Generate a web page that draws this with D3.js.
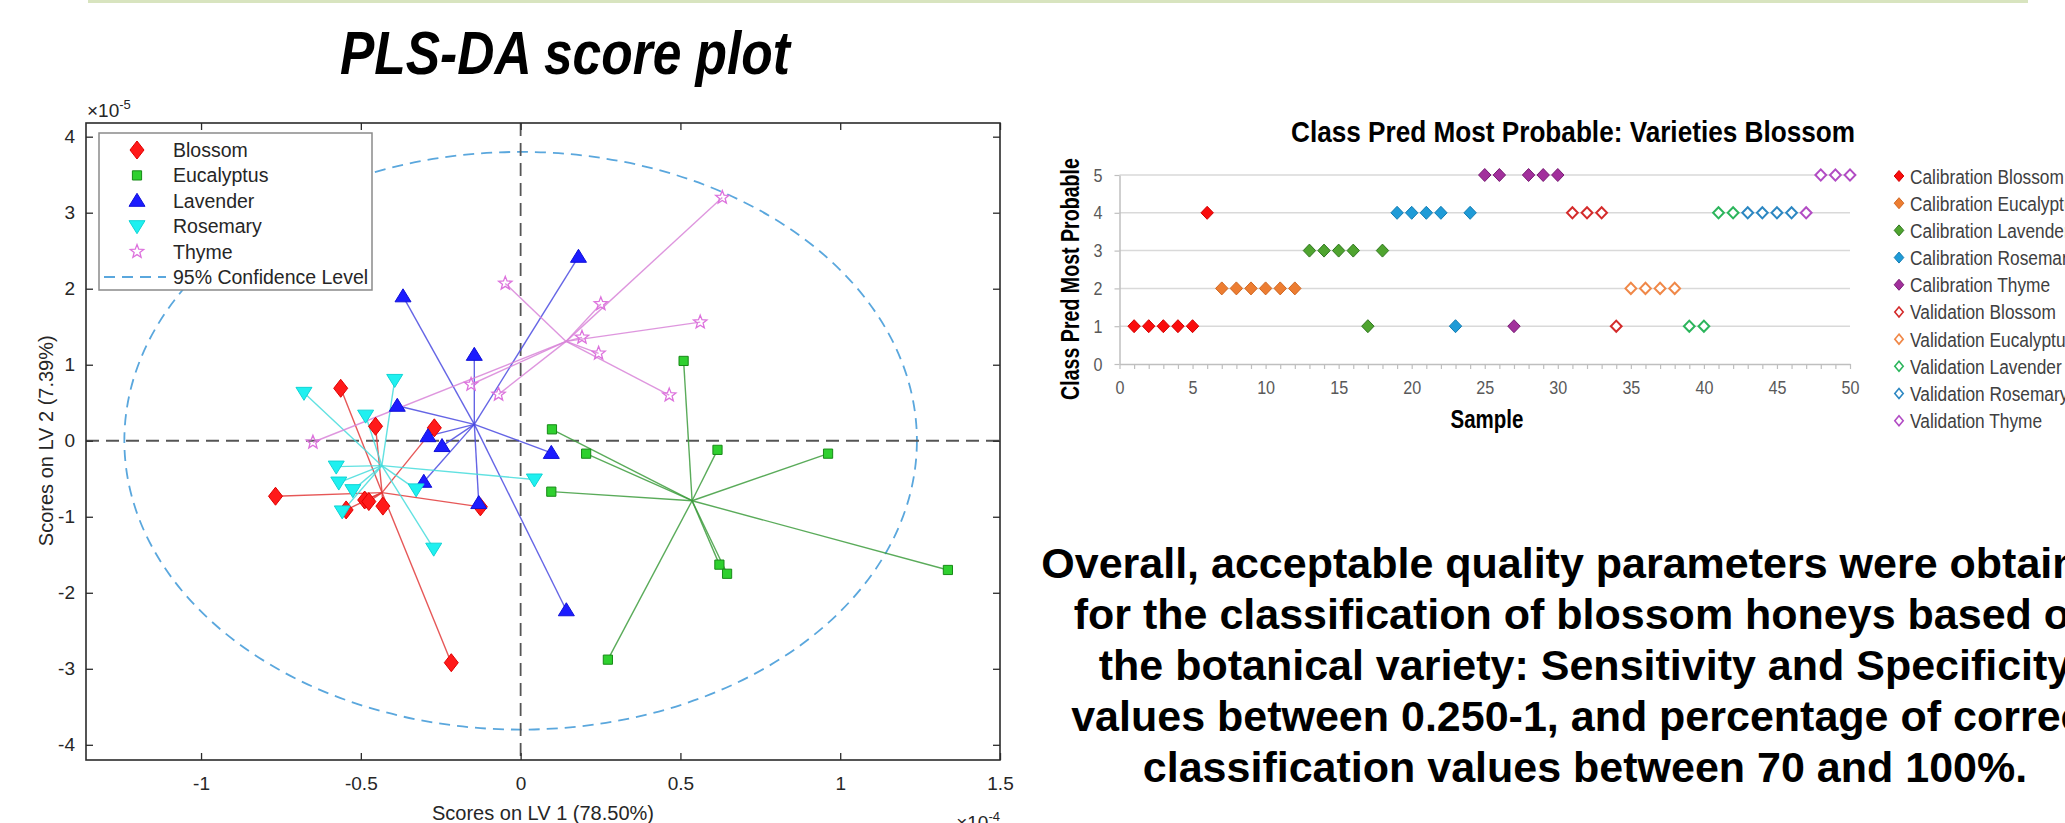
<!DOCTYPE html>
<html>
<head>
<meta charset="utf-8">
<script src="https://cdn.jsdelivr.net/npm/d3@7"></script>
<style>
  body { margin: 0; background: #fff; }
  svg { display: block; font-family: "Liberation Sans", Arial, Helvetica, sans-serif; }
</style>
</head>
<body>
<script>
// ---------------- PLS-DA scores: LV1 in units of 1e-4, LV2 in units of 1e-5 ----------------
const classNames = ["Blossom", "Eucalyptus", "Lavender", "Rosemary", "Thyme"];

const blossomLV1    = [-0.563, -0.454, -0.270, -0.767, -0.546, -0.488, -0.475, -0.431, -0.126, -0.217];
const blossomLV2    = [ 0.69,   0.19,   0.17,  -0.73,  -0.91,  -0.78,  -0.80,  -0.86,  -0.87,  -2.92];
const eucalyptusLV1 = [ 0.098,  0.205,  0.096,  0.616,  0.962,  0.622,  0.646,  1.337,  0.273,  0.510];
const eucalyptusLV2 = [ 0.15,  -0.17,  -0.67,  -0.12,  -0.17,  -1.63,  -1.75,  -1.70,  -2.88,   1.05];
const lavenderLV1   = [-0.368, -0.145, -0.386, -0.290, -0.246,  0.096, -0.303, -0.131,  0.181,  0.143];
const lavenderLV2   = [ 1.90,   1.13,   0.46,   0.06,  -0.07,  -0.16,  -0.54,  -0.82,   2.42,  -2.23];
const rosemaryLV1   = [-0.678, -0.394, -0.485, -0.577, -0.569, -0.525, -0.558, -0.327,  0.043, -0.272];
const rosemaryLV2   = [ 0.63,   0.80,   0.33,  -0.34,  -0.55,  -0.65,  -0.93,  -0.64,  -0.51,  -1.42];
const thymeLV1      = [-0.048, -0.155, -0.069, -0.650,  0.631,  0.251,  0.562,  0.192,  0.244,  0.465];
const thymeLV2      = [ 2.07,   0.74,   0.61,  -0.02,   3.20,   1.80,   1.56,   1.36,   1.15,   0.60];

// 95% confidence ellipse semi-axes (same units as the scores)
const ellipseLV1 = 1.24;
const ellipseLV2 = 3.80;

const lv1Ticks = [-1, -0.5, 0, 0.5, 1, 1.5];
const lv2Ticks = [-4, -3, -2, -1, 0, 1, 2, 3, 4];

// ---------------- Class prediction per sample ----------------
const calBlossomSample    = [1, 2, 3, 4, 5, 6];       const calBlossomPred    = [1, 1, 1, 1, 1, 4];
const calEucalyptusSample = [7, 8, 9, 10, 11, 12];    const calEucalyptusPred = [2, 2, 2, 2, 2, 2];
const calLavenderSample   = [13, 14, 15, 16, 17, 18]; const calLavenderPred   = [3, 3, 3, 3, 1, 3];
const calRosemarySample   = [19, 20, 21, 22, 23, 24]; const calRosemaryPred   = [4, 4, 4, 4, 1, 4];
const calThymeSample      = [25, 26, 27, 28, 29, 30]; const calThymePred      = [5, 5, 1, 5, 5, 5];
const valBlossomSample    = [31, 32, 33, 34];         const valBlossomPred    = [4, 4, 4, 1];
const valEucalyptusSample = [35, 36, 37, 38];         const valEucalyptusPred = [2, 2, 2, 2];
const valLavenderSample   = [39, 40, 41, 42];         const valLavenderPred   = [1, 1, 4, 4];
const valRosemarySample   = [43, 44, 45, 46];         const valRosemaryPred   = [4, 4, 4, 4];
const valThymeSample      = [47, 48, 49, 50];         const valThymePred      = [4, 5, 5, 5];

const seriesNames = ["Calibration Blossom", "Calibration Eucalyptus", "Calibration Lavender",
  "Calibration Rosemary", "Calibration Thyme", "Validation Blossom", "Validation Eucalyptus",
  "Validation Lavender", "Validation Rosemary", "Validation Thyme"];
const sampleTicks = [0, 5, 10, 15, 20, 25, 30, 35, 40, 45, 50];
const predTicks = [0, 1, 2, 3, 4, 5];

const bodyLines = [
  "Overall, acceptable quality parameters were obtained",
  "for the classification of blossom honeys based on",
  "the botanical variety: Sensitivity and Specificity",
  "values between 0.250-1, and percentage of correct",
  "classification values between 70 and 100%."
];

// ---------------- page ----------------
const W = 2065, H = 823;
const svg = d3.select("body").append("svg").attr("width", W).attr("height", H);
svg.append("rect").attr("width", W).attr("height", H).attr("fill", "#fff");
svg.append("rect").attr("x", 88).attr("y", 0).attr("width", 1940).attr("height", 3).attr("fill", "#d8e4bf");

// text drawn horizontally condensed (narrow face look)
function narrowText(parent, x, y, str, o) {
  const g = parent.append("g")
    .attr("transform", `translate(${x},${y})${o.rotate ? ` rotate(${o.rotate})` : ""}`);
  const inner = g.append("g");
  const t = inner.append("text")
    .attr("text-anchor", o.anchor || "start")
    .attr("font-size", o.size)
    .attr("font-weight", o.weight || "normal")
    .attr("font-style", o.style || "normal")
    .attr("fill", o.fill || "#000")
    .text(str);
  let sx = o.sx || 0.82;
  if (o.width) sx = o.width / t.node().getComputedTextLength();
  inner.attr("transform", `scale(${sx},1)`);
  return sx;
}

// ================= PLS-DA score plot =================
narrowText(svg, 340, 74, "PLS-DA score plot", { size: 62, weight: "bold", style: "italic", width: 450 });

const px = d3.scaleLinear().domain([-1.36, 1.5]).range([86, 1000]);
const py = d3.scaleLinear().domain([-4.2, 4.18]).range([760, 123]);
const axisColor = "#2b2b2b";
const plot = svg.append("g");

const classStyle = {
  Blossom:    { fill: "#ff1a1a", stroke: "#e00000", line: "#e23a3a", shape: "diamond" },
  Eucalyptus: { fill: "#2fd02f", stroke: "#178a17", line: "#3d9c3d", shape: "square" },
  Lavender:   { fill: "#1c1cff", stroke: "#1010d8", line: "#4a4ae0", shape: "up" },
  Rosemary:   { fill: "#1ff0f0", stroke: "#10d4d4", line: "#45dcdc", shape: "down" },
  Thyme:      { fill: "none",    stroke: "#dd72dd", line: "#d884d8", shape: "star" }
};

function starPath(R, r) {
  let p = "";
  for (let i = 0; i < 10; i++) {
    const a = -Math.PI / 2 + i * Math.PI / 5, rad = i % 2 ? r : R;
    p += (i ? "L" : "M") + (rad * Math.cos(a)).toFixed(2) + "," + (rad * Math.sin(a)).toFixed(2);
  }
  return p + "Z";
}
const shapes = {
  diamond: "M0,-9L7,0L0,9L-7,0Z",
  square: "M-4.6,-4.6H4.6V4.6H-4.6Z",
  up: "M0,-7.5L8,5.5L-8,5.5Z",
  down: "M0,7.5L8,-5.5L-8,-5.5Z",
  star: starPath(7, 3)
};

const classes = [
  { name: classNames[0], lv1: blossomLV1,    lv2: blossomLV2 },
  { name: classNames[1], lv1: eucalyptusLV1, lv2: eucalyptusLV2 },
  { name: classNames[2], lv1: lavenderLV1,   lv2: lavenderLV2 },
  { name: classNames[3], lv1: rosemaryLV1,   lv2: rosemaryLV2 },
  { name: classNames[4], lv1: thymeLV1,      lv2: thymeLV2 }
];
classes.forEach(c => {
  c.points = c.lv1.map((v, i) => ({ x: v, y: c.lv2[i] }));
  c.cx = d3.mean(c.lv1);
  c.cy = d3.mean(c.lv2);
});

// confidence ellipse
plot.append("ellipse")
  .attr("cx", px(0)).attr("cy", py(0))
  .attr("rx", px(ellipseLV1) - px(0)).attr("ry", py(0) - py(ellipseLV2))
  .attr("fill", "none").attr("stroke", "#5aa7dd").attr("stroke-width", 1.8)
  .attr("stroke-dasharray", "11,7");

// zero lines
plot.append("line").attr("x1", px(0)).attr("x2", px(0)).attr("y1", py(4.18)).attr("y2", py(-4.2))
  .attr("stroke", "#555").attr("stroke-width", 1.8).attr("stroke-dasharray", "13,7");
plot.append("line").attr("x1", px(-1.36)).attr("x2", px(1.5)).attr("y1", py(0)).attr("y2", py(0))
  .attr("stroke", "#555").attr("stroke-width", 1.8).attr("stroke-dasharray", "13,7");

// spokes from each class centre to its samples
classes.forEach(c => {
  const s = classStyle[c.name];
  plot.append("g").selectAll("line").data(c.points).join("line")
    .attr("x1", px(c.cx)).attr("y1", py(c.cy))
    .attr("x2", d => px(d.x)).attr("y2", d => py(d.y))
    .attr("stroke", s.line).attr("stroke-width", 1.4).attr("stroke-opacity", 0.85);
});
// markers
classes.forEach(c => {
  const s = classStyle[c.name];
  plot.append("g").selectAll("path").data(c.points).join("path")
    .attr("transform", d => `translate(${px(d.x)},${py(d.y)})`)
    .attr("d", shapes[s.shape])
    .attr("fill", s.fill).attr("stroke", s.stroke)
    .attr("stroke-width", s.shape === "star" ? 1.3 : 1);
});

// axes (ticks inside on all four sides)
function styleAxis(g) {
  g.select(".domain").remove();
  g.selectAll(".tick line").attr("stroke", axisColor).attr("stroke-width", 1.3);
  g.selectAll(".tick text").attr("fill", "#262626").attr("font-size", 19)
    .attr("font-family", "'Liberation Sans', Arial, sans-serif");
}
const fmt = d => String(d);
svg.append("g").attr("transform", `translate(0,${py(-4.2)})`)
  .call(d3.axisBottom(px).tickValues(lv1Ticks).tickFormat(fmt).tickSizeInner(-7).tickSizeOuter(0).tickPadding(17))
  .call(styleAxis);
svg.append("g").attr("transform", `translate(0,${py(4.18)})`)
  .call(d3.axisTop(px).tickValues(lv1Ticks).tickFormat("").tickSizeInner(-7).tickSizeOuter(0))
  .call(styleAxis);
svg.append("g").attr("transform", `translate(${px(-1.36)},0)`)
  .call(d3.axisLeft(py).tickValues(lv2Ticks).tickFormat(fmt).tickSizeInner(-7).tickSizeOuter(0).tickPadding(11))
  .call(styleAxis);
svg.append("g").attr("transform", `translate(${px(1.5)},0)`)
  .call(d3.axisRight(py).tickValues(lv2Ticks).tickFormat("").tickSizeInner(-7).tickSizeOuter(0))
  .call(styleAxis);
svg.append("rect")
  .attr("x", px(-1.36)).attr("y", py(4.18))
  .attr("width", px(1.5) - px(-1.36)).attr("height", py(-4.2) - py(4.18))
  .attr("fill", "none").attr("stroke", axisColor).attr("stroke-width", 1.6);

// exponent labels
const e5 = svg.append("text").attr("x", 87).attr("y", 117).attr("font-size", 19).attr("fill", "#262626");
e5.append("tspan").text("\u00d710");
e5.append("tspan").attr("dy", -8).attr("font-size", 13).text("-5");
const e4 = svg.append("text").attr("x", 1000).attr("y", 829).attr("text-anchor", "end").attr("font-size", 19).attr("fill", "#262626");
e4.append("tspan").text("\u00d710");
e4.append("tspan").attr("dy", -8).attr("font-size", 13).text("-4");

// axis titles
svg.append("text").attr("x", 543).attr("y", 820).attr("text-anchor", "middle")
  .attr("font-size", 20).attr("fill", "#262626").text("Scores on LV 1 (78.50%)");
svg.append("text").attr("transform", `translate(53,${py(0)}) rotate(-90)`).attr("text-anchor", "middle")
  .attr("font-size", 20).attr("fill", "#262626").text("Scores on LV 2 (7.39%)");

// legend
const lg = svg.append("g");
lg.append("rect").attr("x", 99).attr("y", 133).attr("width", 273).attr("height", 157)
  .attr("fill", "#fff").attr("stroke", "#8a8a8a").attr("stroke-width", 1.5);
const legendRowY = d3.scaleLinear().domain([0, 5]).range([150, 277]);
classes.forEach((c, i) => {
  const s = classStyle[c.name];
  lg.append("path").attr("transform", `translate(137,${legendRowY(i)})`).attr("d", shapes[s.shape])
    .attr("fill", s.fill).attr("stroke", s.stroke).attr("stroke-width", s.shape === "star" ? 1.3 : 1);
  lg.append("text").attr("x", 173).attr("y", legendRowY(i)).attr("dy", "0.36em")
    .attr("font-size", 19.5).attr("fill", "#262626").text(c.name);
});
lg.append("line").attr("x1", 104).attr("x2", 166).attr("y1", legendRowY(5)).attr("y2", legendRowY(5))
  .attr("stroke", "#5aa7dd").attr("stroke-width", 1.8).attr("stroke-dasharray", "11,7");
lg.append("text").attr("x", 173).attr("y", legendRowY(5)).attr("dy", "0.36em")
  .attr("font-size", 19.5).attr("fill", "#262626").text("95% Confidence Level");

// ================= Class prediction chart =================
const qx = d3.scaleLinear().domain([0, 50]).range([1119.5, 1850]);
const qy = d3.scaleLinear().domain([0, 5]).range([364, 175]);
const ch = svg.append("g");

narrowText(ch, 1573, 142, "Class Pred Most Probable: Varieties Blossom", { size: 29, weight: "bold", anchor: "middle", width: 564 });

// gridlines
ch.append("g").selectAll("line").data(predTicks.slice(1)).join("line")
  .attr("x1", qx(0)).attr("x2", qx(50)).attr("y1", d => qy(d)).attr("y2", d => qy(d))
  .attr("stroke", "#d9d9d9").attr("stroke-width", 1.5);

// axes
const minorSamples = d3.range(0, 51);
ch.append("g").attr("transform", `translate(0,${qy(0)})`)
  .call(d3.axisBottom(qx).tickValues(minorSamples).tickFormat("").tickSize(5).tickSizeOuter(0))
  .call(g => { g.select(".domain").attr("stroke", "#bfbfbf").attr("stroke-width", 1.5); g.selectAll(".tick line").attr("stroke", "#bfbfbf").attr("stroke-width", 1.2); });
ch.append("g").attr("transform", `translate(0,${qy(0)})`)
  .call(d3.axisBottom(qx).tickValues(sampleTicks).tickFormat(d3.format("d")).tickSize(0).tickPadding(17))
  .call(g => {
    g.select(".domain").remove();
    g.selectAll(".tick text").attr("font-size", 19).attr("fill", "#595959")
      .attr("font-family", "'Liberation Sans', Arial, sans-serif").attr("transform", "scale(0.85,1)");
  });
ch.append("g").attr("transform", `translate(${qx(0)},0)`)
  .call(d3.axisLeft(qy).tickValues(predTicks).tickFormat(d3.format("d")).tickSize(5).tickSizeOuter(0).tickPadding(15))
  .call(g => {
    g.select(".domain").attr("stroke", "#bfbfbf").attr("stroke-width", 1.5);
    g.selectAll(".tick line").attr("stroke", "#bfbfbf").attr("stroke-width", 1.2);
    g.selectAll(".tick text").attr("font-size", 19).attr("fill", "#595959")
      .attr("font-family", "'Liberation Sans', Arial, sans-serif").attr("transform", "scale(0.85,1)");
  });

narrowText(ch, 1487, 428, "Sample", { size: 25, weight: "bold", anchor: "middle", width: 73 });
narrowText(ch, 1079, 279, "Class Pred Most Probable", { size: 25, weight: "bold", anchor: "middle", width: 242, rotate: -90 });

const seriesStyle = [
  { fill: "#fa0d0d", stroke: "#d10000" },
  { fill: "#ed7d31", stroke: "#cf6722" },
  { fill: "#4fa42f", stroke: "#2f7620" },
  { fill: "#1f9bd7", stroke: "#147db3" },
  { fill: "#a2309c", stroke: "#781c74" },
  { fill: "#fff", stroke: "#d42b2b" },
  { fill: "#fff", stroke: "#f08848" },
  { fill: "#fff", stroke: "#2cb55c" },
  { fill: "#fff", stroke: "#2c87c2" },
  { fill: "#fff", stroke: "#b24cc4" }
];
const series = [
  [calBlossomSample, calBlossomPred], [calEucalyptusSample, calEucalyptusPred],
  [calLavenderSample, calLavenderPred], [calRosemarySample, calRosemaryPred],
  [calThymeSample, calThymePred], [valBlossomSample, valBlossomPred],
  [valEucalyptusSample, valEucalyptusPred], [valLavenderSample, valLavenderPred],
  [valRosemarySample, valRosemaryPred], [valThymeSample, valThymePred]
].map(([s, p], i) => ({ name: seriesNames[i], pts: s.map((v, j) => ({ x: v, y: p[j] })) }));

const diamond = "M0,-6.5L6.2,0L0,6.5L-6.2,0Z";
const diamondHollow = "M0,-5.6L5.4,0L0,5.6L-5.4,0Z";
series.forEach((s, i) => {
  const st = seriesStyle[i], hollow = i >= 5;
  ch.append("g").selectAll("path").data(s.pts).join("path")
    .attr("transform", d => `translate(${qx(d.x)},${qy(d.y)})`)
    .attr("d", hollow ? diamondHollow : diamond)
    .attr("fill", st.fill).attr("stroke", st.stroke).attr("stroke-width", hollow ? 2 : 1);
});

// legend
const legY = d3.scaleLinear().domain([0, 9]).range([176, 420.7]);
let legSx = null;
series.forEach((s, i) => {
  const st = seriesStyle[i], hollow = i >= 5;
  ch.append("path").attr("transform", `translate(1899,${legY(i)})`)
    .attr("d", hollow ? "M0,-5L4.2,0L0,5L-4.2,0Z" : "M0,-5.5L4.8,0L0,5.5L-4.8,0Z")
    .attr("fill", st.fill).attr("stroke", st.stroke).attr("stroke-width", hollow ? 1.6 : 1);
  const o = { size: 21, fill: "#404040" };
  if (legSx === null) o.width = 154; else o.sx = legSx;
  const sx = narrowText(ch, 1910, legY(i) + 7.5, s.name, o);
  if (legSx === null) legSx = sx;
});

// ================= summary text =================
svg.append("g").selectAll("text").data(bodyLines).join("text")
  .attr("x", 1585).attr("y", (d, i) => 578 + i * 51)
  .attr("text-anchor", "middle").attr("font-size", 43).attr("font-weight", "bold").attr("fill", "#000")
  .text(d => d);
</script>
</body>
</html>
